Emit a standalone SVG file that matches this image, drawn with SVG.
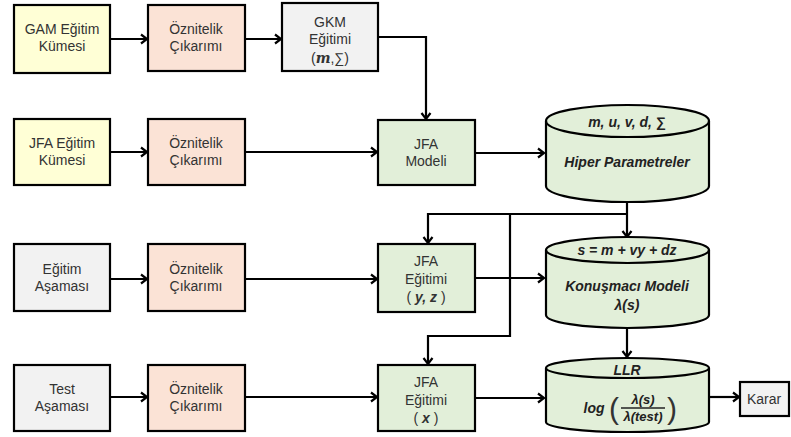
<svg xmlns="http://www.w3.org/2000/svg" width="791" height="437" viewBox="0 0 791 437">
<defs>
<style>
.b{stroke:#000;stroke-width:2.2}
.y{fill:#FFFFD6}.p{fill:#FBE3D6}.g{fill:#F2F2F2}.gr{fill:#E2EFD9}
text{font-family:"Liberation Sans",Arial,sans-serif;font-size:14px;fill:#333;text-anchor:middle}
.m{font-weight:bold;font-style:italic;font-size:14px;fill:#222}
.c{fill:none;stroke:#000;stroke-width:2.2}
</style>
<marker id="a" markerWidth="12" markerHeight="12" refX="9" refY="6" orient="auto" markerUnits="userSpaceOnUse">
<polyline points="3,1.5 9,6 3,10.5" fill="none" stroke="#000" stroke-width="2.2"/>
</marker>
</defs>
<rect width="791" height="437" fill="#fff"/>
<g id="connectors">
<path class="c" d="M110,39 H147" marker-end="url(#a)"/>
<path class="c" d="M245,39 H281" marker-end="url(#a)"/>
<path class="c" d="M378,37 H426 V119" marker-end="url(#a)"/>
<path class="c" d="M110,152 H147" marker-end="url(#a)"/>
<path class="c" d="M245,152 H377" marker-end="url(#a)"/>
<path class="c" d="M475,153 H544" marker-end="url(#a)"/>
<path class="c" d="M110,279 H147" marker-end="url(#a)"/>
<path class="c" d="M245,279 H377" marker-end="url(#a)"/>
<path class="c" d="M475,278 H544" marker-end="url(#a)"/>
<path class="c" d="M110,397 H147" marker-end="url(#a)"/>
<path class="c" d="M245,397 H377" marker-end="url(#a)"/>
<path class="c" d="M475,398 H544" marker-end="url(#a)"/>
<path class="c" d="M627,202 V237" marker-end="url(#a)"/>
<path class="c" d="M627,214 H428 V243" marker-end="url(#a)"/>
<path class="c" d="M510,214 V336 H428 V364" marker-end="url(#a)"/>
<path class="c" d="M627,328 V357" marker-end="url(#a)"/>
<path class="c" d="M709,397 H739" marker-end="url(#a)"/>
</g>
<g id="gam"><rect class="b y" x="14" y="5" width="96" height="68"/><text x="62" y="34">GAM Eğitim</text><text x="62" y="51">Kümesi</text></g>
<g id="oz1"><rect class="b p" x="148" y="5" width="97" height="66"/><text x="196" y="34">Öznitelik</text><text x="196" y="51">Çıkarımı</text></g>
<g id="gkm"><rect class="b g" x="282" y="3" width="96" height="68"/><text x="330" y="27">GKM</text><text x="330" y="44">Eğitimi</text><text x="330" y="63">(<tspan font-style="italic" font-weight="bold" font-family="'DejaVu Serif',serif">m</tspan>,∑)</text></g>
<g id="jfak"><rect class="b y" x="14" y="119" width="96" height="66"/><text x="62" y="148">JFA Eğitim</text><text x="62" y="165">Kümesi</text></g>
<g id="oz2"><rect class="b p" x="148" y="119" width="97" height="66"/><text x="196" y="148">Öznitelik</text><text x="196" y="165">Çıkarımı</text></g>
<g id="jfam"><rect class="b gr" x="378" y="120" width="97" height="65"/><text x="426" y="149">JFA</text><text x="426" y="166">Modeli</text></g>
<g id="hiper">
<path class="b gr" d="M546,121 V186 A81.5,16 0 0 0 709,186 V121 A81.5,16 0 0 0 546,121 Z"/>
<path class="c" d="M546,121 A81.5,16 0 0 0 709,121"/>
<text class="m" x="627" y="127">m, u, v, d, ∑</text>
<text class="m" x="627" y="167">Hiper Parametreler</text>
</g>
<g id="egitim"><rect class="b g" x="14" y="244" width="96" height="67"/><text x="62" y="274">Eğitim</text><text x="62" y="291">Aşaması</text></g>
<g id="oz3"><rect class="b p" x="148" y="244" width="97" height="67"/><text x="196" y="274">Öznitelik</text><text x="196" y="291">Çıkarımı</text></g>
<g id="jfayz"><rect class="b gr" x="378" y="244" width="97" height="68"/><text x="426" y="266">JFA</text><text x="426" y="284">Eğitimi</text><text x="426" y="302">( <tspan font-weight="bold" font-style="italic">y, z</tspan> )</text></g>
<g id="konusmaci">
<path class="b gr" d="M546,250 V315 A81.5,13 0 0 0 709,315 V250 A81.5,13 0 0 0 546,250 Z"/>
<path class="c" d="M546,250 A81.5,13 0 0 0 709,250"/>
<text class="m" x="627" y="255">s = m + vy + dz</text>
<text class="m" x="627" y="291">Konuşmacı Modeli</text>
<text class="m" x="627" y="310">λ(s)</text>
</g>
<g id="test"><rect class="b g" x="14" y="365" width="96" height="66"/><text x="62" y="394">Test</text><text x="62" y="411">Aşaması</text></g>
<g id="oz4"><rect class="b p" x="148" y="365" width="97" height="66"/><text x="196" y="394">Öznitelik</text><text x="196" y="411">Çıkarımı</text></g>
<g id="jfax"><rect class="b gr" x="378" y="365" width="97" height="66"/><text x="426" y="387">JFA</text><text x="426" y="405">Eğitimi</text><text x="426" y="423">( <tspan font-weight="bold" font-style="italic">x</tspan> )</text></g>
<g id="llr">
<path class="b gr" d="M546,368 V422 A81.5,10 0 0 0 709,422 V368 A81.5,10 0 0 0 546,368 Z"/>
<path class="c" d="M546,368 A81.5,10 0 0 0 709,368"/>
<text class="m" x="627" y="375">LLR</text>
<text class="m" x="594" y="413">log</text>
<text x="614" y="419" style="font-size:30px;font-weight:300;fill:#333">(</text>
<text x="672" y="419" style="font-size:30px;font-weight:300;fill:#333">)</text>
<text class="m" x="643" y="404" style="font-size:13px">λ(s)</text>
<line x1="621" y1="408" x2="665" y2="408" stroke="#222" stroke-width="1.3"/>
<text class="m" x="643" y="421" style="font-size:13px">λ(test)</text>
</g>
<g id="karar"><rect class="b g" x="740" y="382" width="49" height="34"/><text x="764" y="404">Karar</text></g>
</svg>
